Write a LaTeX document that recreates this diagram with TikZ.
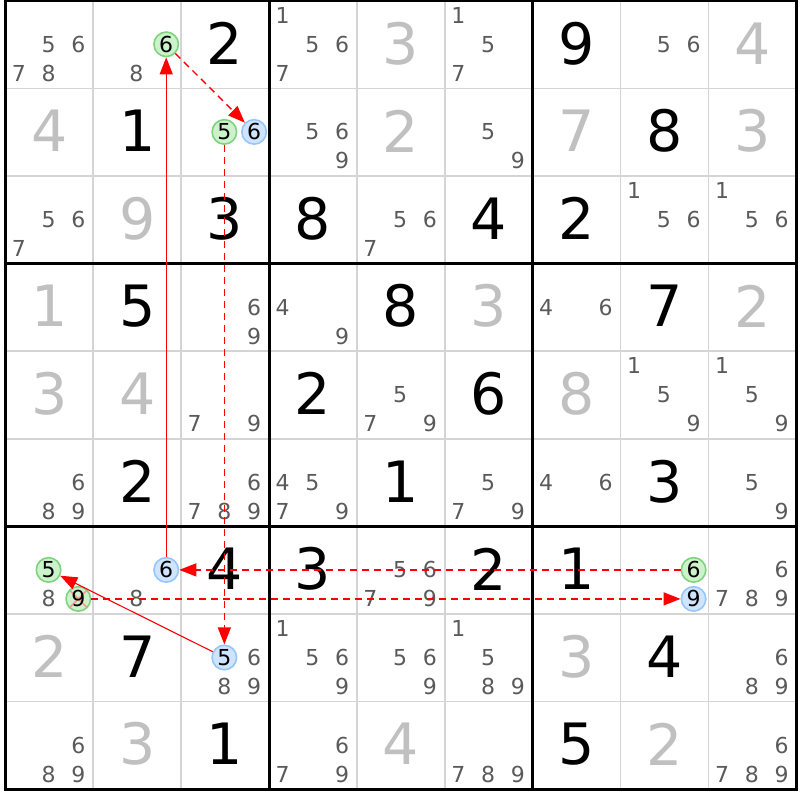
\documentclass[tikz,border=0pt]{standalone}
\usepackage{fontspec}
\setmainfont{DejaVu Sans}
\usetikzlibrary{arrows.meta}
\definecolor{solvedgray}{RGB}{192,192,192}
\definecolor{candgray}{RGB}{90,90,90}
\definecolor{thingrid}{RGB}{212,212,212}
\definecolor{gfill}{RGB}{204,242,204}
\definecolor{gline}{RGB}{125,212,125}
\definecolor{bfill}{RGB}{206,228,255}
\definecolor{bline}{RGB}{150,198,250}
\definecolor{xred}{RGB}{255,150,150}
\tikzset{
  given/.style={inner sep=0pt, text=black, font=\fontsize{57}{60}\selectfont},
  solved/.style={given, text=solvedgray},
  cand/.style={inner sep=0pt, text=candgray, font=\fontsize{22}{24}\selectfont},
  circmark/.style={circle, inner sep=0pt, minimum size=24.5pt, line width=1.6pt, text=black, font=\fontsize{22}{24}\selectfont},
  gmark/.style={circmark, draw=gline, fill=gfill},
  bmark/.style={circmark, draw=bline, fill=bfill},
  xmark/.style={gmark, path picture={
      \draw[xred, line width=1.6pt] (path picture bounding box.north west) -- (path picture bounding box.south east);
      \draw[xred, line width=1.6pt] (path picture bounding box.north east) -- (path picture bounding box.south west);}},
  strong/.style={red, line width=1.1pt, -{Triangle[length=17pt,width=13pt]}},
  weak/.style={strong, line width=1.4pt, dash pattern=on 7pt off 5pt},
}
\begin{document}
\begin{tikzpicture}[x=1pt, y=-1pt]
\useasboundingbox[fill=white] (0,0) rectangle (800,800);
% thin grid
\foreach \i in {1,2,4,5,7,8} {
  \draw[thingrid, line width=1.5pt] ({5.3+87.9*\i},0.8) -- ({5.3+87.9*\i},789.2);
  \draw[thingrid, line width=1.5pt] (5.3,{0.8+87.6*\i}) -- (796.4,{0.8+87.6*\i});
}
% thick grid
\foreach \i in {0,3,6,9} {
  \draw[black, line width=3pt] ({5.3+87.9*\i},0.8) -- ({5.3+87.9*\i},789.2);
  \draw[black, line width=3pt] (5.3,{0.8+87.6*\i}) -- (796.4,{0.8+87.6*\i});
}
\draw[black, line width=3pt] (5.3,0.8) rectangle (796.4,789.2);
% given digits
\foreach \r/\c/\d in {1/3/2,1/7/9,2/2/1,2/8/8,3/3/3,3/4/8,3/6/4,3/7/2,4/2/5,4/5/8,4/8/7,5/4/2,5/6/6,6/2/2,6/5/1,6/8/3,7/3/4,7/4/3,7/6/2,7/7/1,8/2/7,8/8/4,9/3/1,9/7/5}
  \node[given] (g\r\c) at ({5.3+87.9*(\c-1)+44},{0.8+87.6*(\r-1)+42.5}) {\d};
% solved digits
\foreach \r/\c/\d in {1/5/3,1/9/4,2/1/4,2/5/2,2/7/7,2/9/3,3/2/9,4/1/1,4/6/3,4/9/2,5/1/3,5/2/4,5/7/8,8/1/2,8/7/3,9/2/3,9/5/4,9/8/2}
  \node[solved] (g\r\c) at ({5.3+87.9*(\c-1)+44},{0.8+87.6*(\r-1)+42.5}) {\d};
% candidates
\foreach \r/\c/\ks in {1/1/{5,6,7,8},1/2/{8},1/4/{1,5,6,7},1/6/{1,5,7},1/8/{5,6},
  2/4/{5,6,9},2/6/{5,9},3/1/{5,6,7},3/5/{5,6,7},3/8/{1,5,6},3/9/{1,5,6},
  4/3/{6,9},4/4/{4,9},4/7/{4,6},5/3/{7,9},5/5/{5,7,9},5/8/{1,5,9},5/9/{1,5,9},
  6/1/{6,8,9},6/3/{6,7,8,9},6/4/{4,5,7,9},6/6/{5,7,9},6/7/{4,6},6/9/{5,9},
  7/1/{8},7/2/{8},7/5/{5,6,7,9},7/9/{6,7,8,9},
  8/3/{6,8,9},8/4/{1,5,6,9},8/5/{5,6,9},8/6/{1,5,8,9},8/9/{6,8,9},
  9/1/{6,8,9},9/4/{6,7,9},9/6/{7,8,9},9/9/{6,7,8,9}}
  \foreach \k in \ks
    \node[cand] (c\r\c\k) at ({5.3+87.9*(\c-1)+13.5+29.75*mod(\k-1,3)},{0.8+87.6*(\r-1)+14.5+29*int((\k-1)/3)}) {\k};
% marked candidates
\foreach \r/\c/\k/\s in {1/2/6/gmark,2/3/5/gmark,2/3/6/bmark,7/1/5/gmark,7/1/9/xmark,7/2/6/bmark,7/8/6/gmark,7/8/9/bmark,8/3/5/bmark}
  \node[\s] (c\r\c\k) at ({5.3+87.9*(\c-1)+13.5+29.75*mod(\k-1,3)},{0.8+87.6*(\r-1)+14.5+29*int((\k-1)/3)}) {\k};
% links
\draw[strong] (c726) -- (c126);
\draw[weak] (c126) -- (c236);
\draw[weak] (c235) -- (c835);
\draw[strong] (c835) -- (c715);
\draw[weak] (c719) -- (c789);
\draw[weak] (c786) -- (c726);
\end{tikzpicture}
\end{document}
